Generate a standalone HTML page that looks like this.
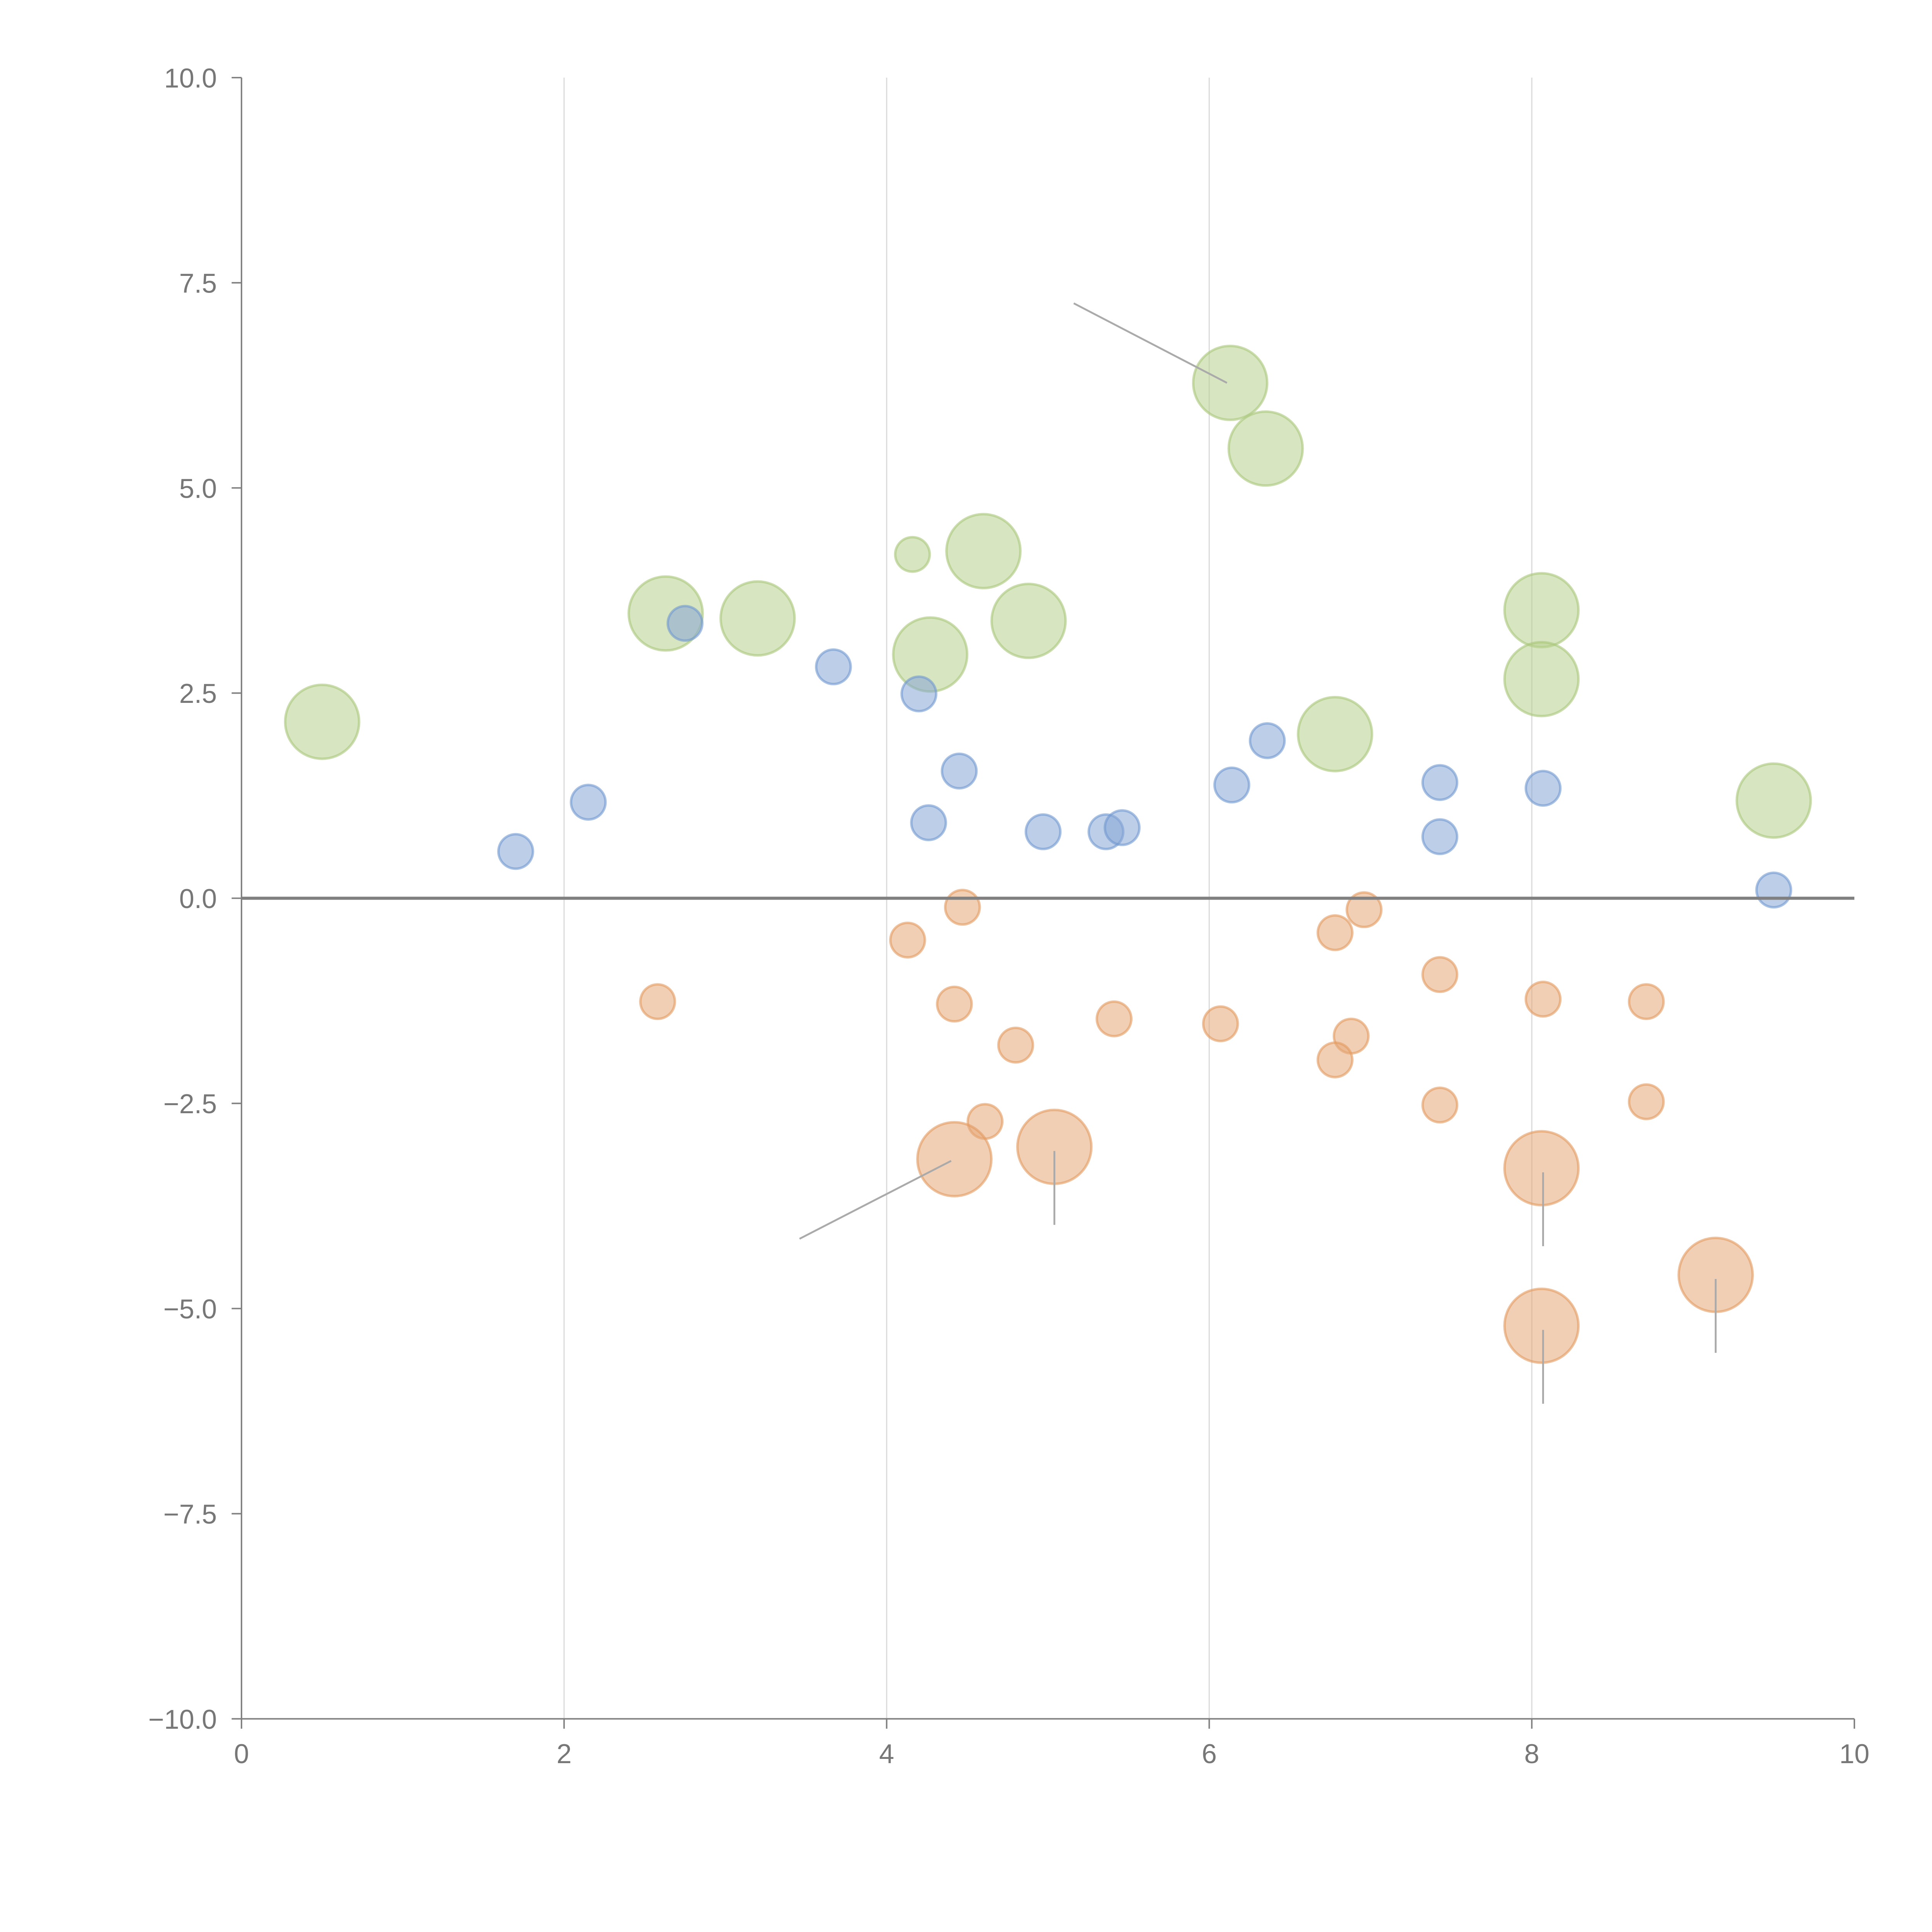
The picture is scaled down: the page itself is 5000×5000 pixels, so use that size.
<!DOCTYPE html>
<html><head><meta charset="utf-8"><style>html,body{margin:0;padding:0;background:#fff}svg{display:block}</style></head>
<body>
<svg id="chart" width="5000" height="5000" viewBox="0 0 1568 1568" xmlns="http://www.w3.org/2000/svg" font-family="Liberation Sans, sans-serif">
<g id="grid"></g>
<g id="marks"></g>
<g id="axes"></g>
</svg>
<script>
const xTicks = [0, 2, 4, 6, 8, 10];
const yTicks = [10, 7.5, 5, 2.5, 0, -2.5, -5, -7.5, -10];
const yTickLabels = ["10.0", "7.5", "5.0", "2.5", "0.0", "\u22122.5", "\u22125.0", "\u22127.5", "\u221210.0"];
const greenX = [0.50, 2.63, 3.20, 4.16, 4.60, 4.27, 4.88, 6.13, 6.35, 6.78, 8.06, 8.06, 9.50];
const greenY = [2.15, 3.47, 3.41, 4.19, 4.23, 2.97, 3.38, 6.28, 5.48, 2.00, 3.51, 2.67, 1.19];
const greenS = [2, 2, 2, 1, 2, 2, 2, 2, 2, 2, 2, 2, 2];
const blueX = [1.70, 2.15, 2.75, 3.67, 4.20, 4.45, 4.26, 4.97, 5.36, 5.46, 6.14, 6.36, 7.43, 7.43, 8.07, 9.50];
const blueY = [0.57, 1.17, 3.35, 2.82, 2.49, 1.55, 0.92, 0.81, 0.81, 0.86, 1.38, 1.92, 1.41, 0.75, 1.34, 0.10];
const orangeX = [2.58, 4.13, 4.47, 4.42, 4.80, 4.61, 5.41, 6.07, 6.78, 6.96, 6.88, 6.78, 7.43, 7.43, 8.07, 8.71, 8.71, 4.42, 5.04, 8.06, 8.06, 9.14];
const orangeY = [-1.26, -0.51, -0.11, -1.29, -1.79, -2.72, -1.47, -1.53, -0.42, -0.14, -1.68, -1.97, -0.93, -2.52, -1.23, -1.26, -2.48, -3.18, -3.03, -3.29, -5.21, -4.59];
const orangeS = [1,1,1,1,1,1,1,1,1,1,1,1,1,1,1,1,1,2,2,2,2,2];
const annX1 = [5.16, 3.46];
const annY1 = [7.25, -4.15];
const annX2 = [6.11, 4.40];
const annY2 = [6.28, -3.20];
const vX = [5.04, 8.07, 8.07, 9.14];
const vY1 = [-3.08, -3.34, -5.26, -4.64];
const vY2 = [-3.98, -4.24, -6.16, -5.54];

const NS = "http://www.w3.org/2000/svg";
const X = v => 196 + (v - 0) / 10 * 1309;
const Y = v => 729 - v / 10 * 666;
function mk(tag, attrs, parent) { const e = document.createElementNS(NS, tag); for (const k in attrs) e.setAttribute(k, attrs[k]); parent.appendChild(e); return e; }
const grid = document.getElementById('grid'), marks = document.getElementById('marks'), axes = document.getElementById('axes');

xTicks.forEach(t => { if (t > 0 && t < 10) { const l = mk('line', {x1: X(t), x2: X(t), y1: Y(10), y2: Y(-10), stroke: '#dcdcdc', 'stroke-width': 1}, grid);
  
   } });

function bubbles(xs, ys, ss, fill, stroke, name) {
  xs.forEach((x, i) => { const r = ss ? (ss[i] === 2 ? 30 : 14) : 14;
    const c = mk('circle', {cx: X(x), cy: Y(ys[i]), r: r, fill: fill, 'fill-opacity': 0.55, stroke: stroke, 'stroke-opacity': 0.6, 'stroke-width': 2}, marks);
    
     });
}
bubbles(greenX, greenY, greenS, '#b7d08d', '#a9c77a', 'green-bubble');
bubbles(blueX, blueY, null, '#86a6d6', '#7097cf', 'blue-bubble');
bubbles(orangeX, orangeY, orangeS, '#e6a877', '#e39a5f', 'orange-bubble');

annX1.forEach((x, i) => { const l = mk('line', {x1: X(x), y1: Y(annY1[i]), x2: X(annX2[i]), y2: Y(annY2[i]), stroke: '#aaa', 'stroke-width': 1.5}, marks);
  
   });
vX.forEach((x, i) => { const l = mk('line', {x1: X(x), y1: Y(vY1[i]), x2: X(x), y2: Y(vY2[i]), stroke: '#aaa', 'stroke-width': 1.5}, marks);
  
   });

const zl = mk('line', {x1: X(0), x2: X(10), y1: Y(0), y2: Y(0), stroke: '#808080', 'stroke-width': 2.5}, axes);


const ya = mk('line', {x1: X(0), x2: X(0), y1: Y(10), y2: Y(-10), stroke: '#808080', 'stroke-width': 1.2}, axes);


const xa = mk('line', {x1: X(0), x2: X(10), y1: Y(-10), y2: Y(-10), stroke: '#808080', 'stroke-width': 1.2}, axes);



xTicks.forEach(t => { mk('line', {x1: X(t), x2: X(t), y1: Y(-10), y2: Y(-10) + 8, stroke: '#808080', 'stroke-width': 1.2}, axes);
  const tx = mk('text', {x: X(t), y: Y(-10) + 36, 'text-anchor': 'middle', 'font-size': 22, fill: '#777'}, axes);
  tx.textContent = String(t);
  
   });
yTicks.forEach((t, i) => { mk('line', {x1: X(0) - 8, x2: X(0), y1: Y(t), y2: Y(t), stroke: '#808080', 'stroke-width': 1.2}, axes);
  const tx = mk('text', {x: X(0) - 20, y: Y(t) + 8, 'text-anchor': 'end', 'font-size': 22, fill: '#777'}, axes);
  tx.textContent = yTickLabels[i];
  
   });
</script>
</body></html>
